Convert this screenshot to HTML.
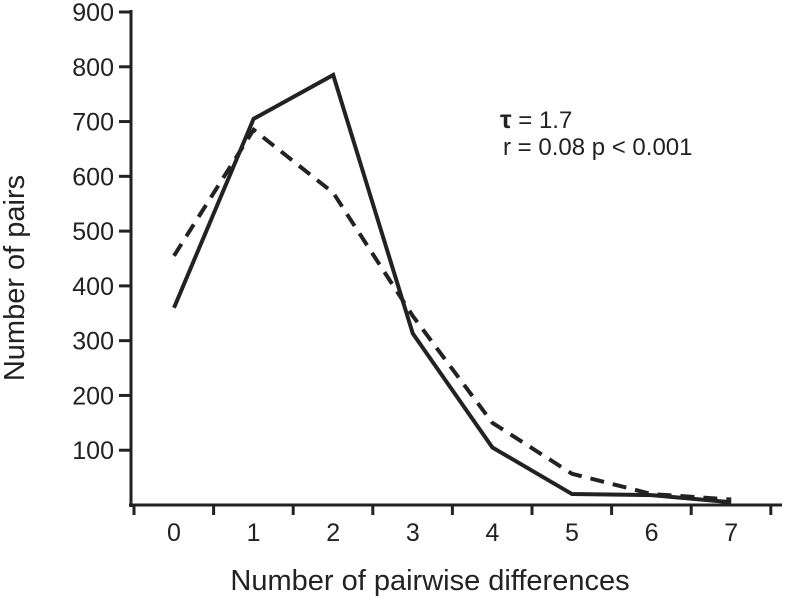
<!DOCTYPE html>
<html><head><meta charset="utf-8"><style>
body{margin:0;background:#fff}
svg{display:block;font-family:"Liberation Sans",Arial,sans-serif}
</style></head><body>
<svg id="chart" width="785" height="598">
<g id="axes"></g>
<g id="series"></g>
<text x="500" y="128" font-size="24" fill="#222"><tspan font-weight="bold" font-size="26">τ</tspan> = 1.7</text>
<text x="503" y="155" font-size="24" fill="#222">r = 0.08 p &lt; 0.001</text>
<text x="430" y="590" font-size="29" fill="#222" text-anchor="middle">Number of pairwise differences</text>
<text transform="translate(24,278) rotate(-90)" font-size="29" fill="#222" text-anchor="middle">Number of pairs</text>
</svg>
<script>
const categories=[0,1,2,3,4,5,6,7];
const observed=[360,705,785,313,105,20,18,5];
const expected=[455,685,570,345,150,57,20,10];
const yTicks=[100,200,300,400,500,600,700,800,900];
const NS="http://www.w3.org/2000/svg";
const x0=131,x1=782,yBase=505,yTop=12;
function xs(i){return 174+i*79.6;}
function ys(v){return yBase-(v/900)*(yBase-yTop);}
function mk(t,a,p){const e=document.createElementNS(NS,t);for(const k in a)e.setAttribute(k,a[k]);p.appendChild(e);return e;}
const ax=document.getElementById('axes');
let l=mk('line',{x1:x0,y1:yTop-2,x2:x0,y2:yBase+2,stroke:'#222','stroke-width':3},ax);


l=mk('line',{x1:x0-2,y1:yBase,x2:x1,y2:yBase,stroke:'#222','stroke-width':3},ax);


yTicks.forEach(v=>{
 const t=mk('line',{x1:x0-12,y1:ys(v),x2:x0,y2:ys(v),stroke:'#222','stroke-width':3},ax);
 
 
 const tx=mk('text',{x:x0-17,y:ys(v)+9,'font-size':25,'text-anchor':'end',fill:'#222'},ax);
 tx.textContent=v;
 
 
});
for(let i=0;i<=categories.length;i++){
 const xx=xs(i)-40;
 const t=mk('line',{x1:xx,y1:yBase,x2:xx,y2:yBase+10,stroke:'#222','stroke-width':3},ax);
 
 
}
categories.forEach((c,i)=>{
 const tx=mk('text',{x:xs(i),y:541,'font-size':25,'text-anchor':'middle',fill:'#222'},ax);
 tx.textContent=c;
 
 
});
const sg=document.getElementById('series');
const pe=mk('polyline',{points:expected.map((v,i)=>xs(i)+','+ys(v)).join(' '),fill:'none',stroke:'#222','stroke-width':4,'stroke-dasharray':'14,9'},sg);


const po=mk('polyline',{points:observed.map((v,i)=>xs(i)+','+ys(v)).join(' '),fill:'none',stroke:'#222','stroke-width':4},sg);


</script>
</body></html>
